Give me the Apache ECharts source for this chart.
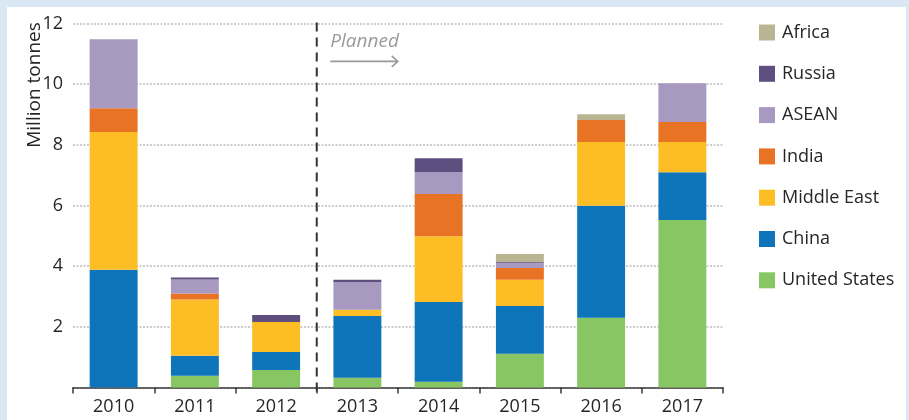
<!DOCTYPE html>
<html>
<head>
<meta charset="utf-8">
<script src="https://cdn.jsdelivr.net/npm/echarts@6/dist/echarts.min.js"></script>
<style>
  html, body { margin: 0; padding: 0; background: #dae8f5; }
  #wrap { position: absolute; left: 7px; top: 7px; width: 899px; height: 413px; background: #ffffff; }
  #chart { position: absolute; left: -7px; top: -7px; width: 909px; height: 420px; }
</style>
</head>
<body>
<div id="wrap"><div id="chart"></div></div>
<script>
// Categories (years) and stacked series, million tonnes
const years = ['2010', '2011', '2012', '2013', '2014', '2015', '2016', '2017'];
const unitedStates = [0, 0.39, 0.58, 0.32, 0.19, 1.11, 2.30, 5.52];
const china        = [3.88, 0.66, 0.59, 2.04, 2.63, 1.58, 3.69, 1.58];
const middleEast   = [4.54, 1.85, 0.99, 0.20, 2.17, 0.86, 2.10, 0.99];
const india        = [0.79, 0.20, 0, 0, 1.39, 0.39, 0.73, 0.66];
const asean        = [2.27, 0.46, 0, 0.92, 0.72, 0.17, 0, 1.28];
const russia       = [0, 0.07, 0.23, 0.07, 0.46, 0.03, 0, 0];
const africa       = [0, 0, 0, 0, 0, 0.26, 0.19, 0];
const yTicks = [0, 2, 4, 6, 8, 10, 12];
const legendOrder = ['Africa', 'Russia', 'ASEAN', 'India', 'Middle East', 'China', 'United States'];

const FONT = 'Open Sans';
const seriesDefs = [
  ['United States', unitedStates, '#87c662'],
  ['China', china, '#0e75bb'],
  ['Middle East', middleEast, '#fdbe25'],
  ['India', india, '#e87324'],
  ['ASEAN', asean, '#a899c1'],
  ['Russia', russia, '#5e4f80'],
  ['Africa', africa, '#b9b592']
];

const chart = echarts.init(document.getElementById('chart'), null, { renderer: 'canvas' });

chart.setOption({
  animation: false,
  backgroundColor: 'transparent',
  textStyle: { fontFamily: FONT },
  grid: { left: 73, right: 186, top: 23.5, bottom: 32.5, containLabel: false },
  legend: {
    data: legendOrder,
    orient: 'vertical',
    left: 754,
    top: 18.5,
    itemWidth: 16,
    itemHeight: 16,
    itemGap: 23.3,
    icon: 'rect',
    selectedMode: false,
    textStyle: { fontFamily: FONT, fontSize: 18, color: '#262626', lineHeight: 16, padding: [0, 0, 0, 2] }
  },
  xAxis: {
    type: 'category',
    data: years,
    boundaryGap: true,
    axisLine: { lineStyle: { color: '#3a3a3a', width: 1.5 } },
    axisTick: { show: true, length: 6, lineStyle: { color: '#3a3a3a', width: 1.5 } },
    axisLabel: { fontFamily: FONT, fontSize: 18, color: '#262626', margin: 10 }
  },
  yAxis: {
    type: 'value',
    min: yTicks[0],
    max: yTicks[yTicks.length - 1],
    interval: 2,
    axisLine: { show: false },
    axisTick: { show: false },
    axisLabel: {
      fontFamily: FONT, fontSize: 18, color: '#262626', margin: 10,
      formatter: v => (v === 0 ? '' : String(v))
    },
    splitLine: { show: true, lineStyle: { color: '#bdbdbd', width: 1.5, type: [2, 1.5] } }
  },
  series: seriesDefs.map(([name, data, color]) => ({
    name: name,
    type: 'bar',
    stack: 'total',
    data: data,
    barWidth: '59%',
    itemStyle: { color: color },
    emphasis: { disabled: true }
  }))
});

// Dashed divider between actual and planned years, plus annotation
function drawOverlay() {
  const c12 = chart.convertToPixel({ xAxisIndex: 0 }, '2012');
  const c13 = chart.convertToPixel({ xAxisIndex: 0 }, '2013');
  const xDiv = (c12 + c13) / 2;
  const yTop = chart.convertToPixel({ yAxisIndex: 0 }, 12);
  const yBase = chart.convertToPixel({ yAxisIndex: 0 }, 0);
  const yArrow = chart.convertToPixel({ yAxisIndex: 0 }, 10.75);
  const yText = chart.convertToPixel({ yAxisIndex: 0 }, 11.4);
  const ax0 = xDiv + 13.5, ax1 = xDiv + 81;

  chart.setOption({
    graphic: [
      {
        type: 'line', silent: true,
        shape: { x1: xDiv, y1: yTop - 1, x2: xDiv, y2: yBase + 4 },
        style: { stroke: '#333333', lineWidth: 2, lineDash: [9, 6] }
      },
      {
        type: 'text', silent: true, x: ax0, y: yText,
        style: { text: 'Planned', fontFamily: FONT, fontStyle: 'italic', fontSize: 19, fill: '#9a9a9a', align: 'left', verticalAlign: 'middle' }
      },
      {
        type: 'line', silent: true,
        shape: { x1: ax0, y1: yArrow, x2: ax1, y2: yArrow },
        style: { stroke: '#9a9a9a', lineWidth: 1.6 }
      },
      {
        type: 'polyline', silent: true,
        shape: { points: [[ax1 - 6, yArrow - 5.5], [ax1, yArrow], [ax1 - 6, yArrow + 5.5]] },
        style: { stroke: '#9a9a9a', lineWidth: 1.6, fill: null }
      },
      {
        type: 'text', silent: true, x: 35, y: 85, rotation: Math.PI / 2,
        style: { text: 'Million tonnes', fontFamily: FONT, fontSize: 19, fill: '#262626', align: 'center', verticalAlign: 'middle' }
      }
    ]
  });
}
drawOverlay();
</script>
</body>
</html>
